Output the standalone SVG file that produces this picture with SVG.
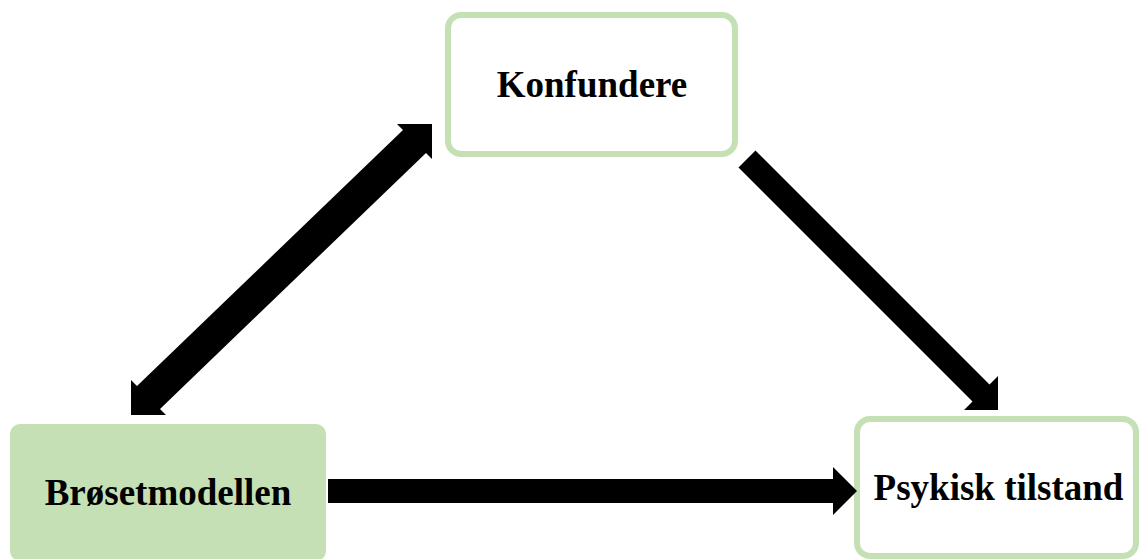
<svg xmlns="http://www.w3.org/2000/svg" width="1139" height="559" viewBox="0 0 1139 559">
  <style>
    .box { fill: #ffffff; stroke: #c5e0b4; stroke-width: 6; }
    .filled { fill: #c5e0b4; stroke: none; }
    .label { font-family: "Liberation Serif", "Times New Roman", serif; font-weight: bold; font-size: 37px; fill: #000000; text-anchor: middle; }
    .arrow { fill: #000000; stroke: none; }
  </style>
  <rect width="1139" height="559" fill="#ffffff"/>
  <g id="node-konfundere">
    <rect class="box" x="448" y="15" width="287" height="139" rx="13" ry="13"/>
    <text class="label" x="592" y="97">Konfundere</text>
  </g>
  <g id="node-brosetmodellen">
    <rect class="filled" x="10" y="424" width="316" height="137" rx="10" ry="10"/>
    <text class="label" x="168" y="505">Brøsetmodellen</text>
  </g>
  <g id="node-psykisk">
    <rect class="box" x="857" y="419" width="279" height="137" rx="13" ry="13"/>
    <text class="label" x="998.5" y="500">Psykisk tilstand</text>
  </g>
  <g id="connectors">
    <polygon class="arrow" points="432,124 432,159 426,153 160,409 166,415 131,415 131,380 137,386 403,130 397,124"/>
    <polygon class="arrow" points="755.5,150.5 989.5,384.5 998,376 998,410 964,410 972.5,401.5 738.5,167.5"/>
    <polygon class="arrow" points="328,479 833,479 833,467 857,491 833,515 833,503 328,503"/>
  </g>
</svg>
